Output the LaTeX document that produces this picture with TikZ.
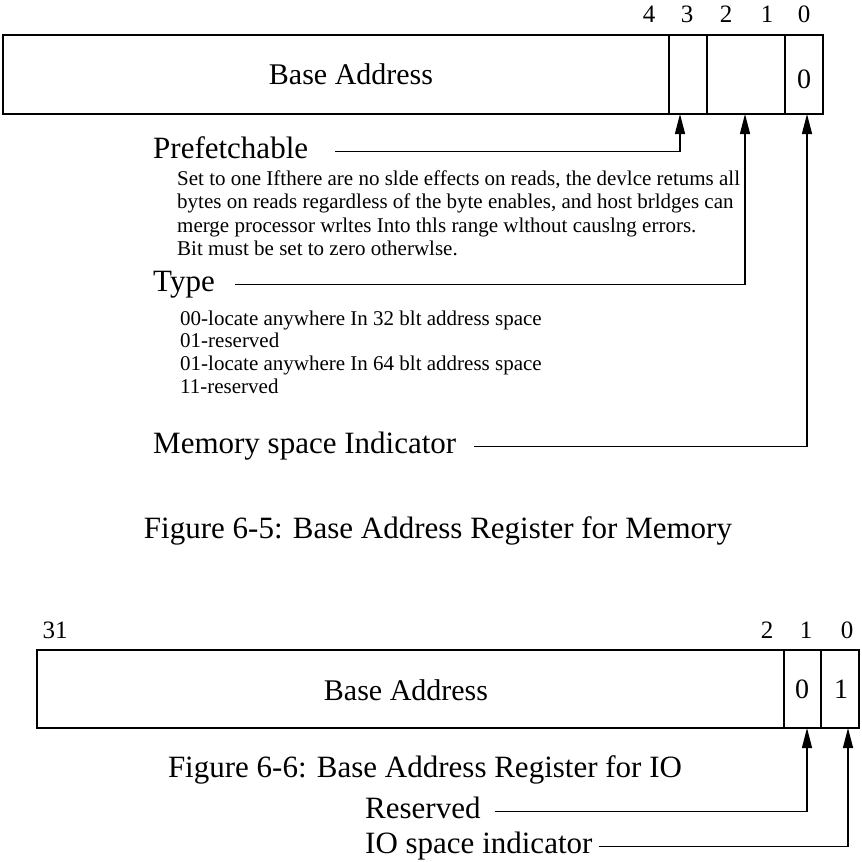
\documentclass[tikz,border=0pt]{standalone}
\usepackage{fontspec}
\setmainfont{Liberation Serif}
\usetikzlibrary{arrows.meta, positioning}

\begin{document}
\begin{tikzpicture}[
            x=1pt, y=-1pt,
            every node/.style={inner sep=0pt},
            big/.style={font=\fontsize{31}{36}\selectfont},
            field/.style={font=\fontsize{30}{36}\selectfont, anchor=base},
            bitno/.style={font=\fontsize{25}{30}\selectfont, anchor=base},
            cell/.style={font=\fontsize{28}{32}\selectfont, anchor=base},
            note/.style={font=\fontsize{21}{23.3}\selectfont, align=left, anchor=north west},
            frame/.style={line width=2.2pt},
            divider/.style={line width=1.3pt},
            arrow/.style={-{Triangle[length=20pt, width=10pt]}, line width=1.4pt}
        ]
        \useasboundingbox (0,0) rectangle (862,862);

        % Memory register (figure 6-5)
        \draw [frame] (3,35) rectangle (823,114);
        \foreach \x in {669,707,785}
            \draw [divider] (\x,35) -- (\x,114);
        \foreach \x/\b in {649/4, 687/3, 726/2, 767/1, 804/0}
            \node [bitno] (mbit\b) at (\x,22) {\b};
        \node [field] (membase) at (351,84) {Base Address};
        \node [cell] (mem0) at (804,88) {0};

        \coordinate (m3) at (680,114);
        \coordinate (m21) at (745,114);
        \coordinate (m0) at (807,114);

        \node [big, anchor=base west] (pref) at (153,158) {Prefetchable};
        \node [note] (prefdesc) at (177,170.5) {Set to one Ifthere are no slde effects on reads, the devlce retums all\\
            bytes on reads regardless of the byte enables, and host brldges can\\
            merge processor wrltes Into thls range wlthout causlng errors.\\
            Bit must be set to zero otherwlse.};
        \node [big, anchor=base west] (type) at (153,291) {Type};
        \node [note, font=\fontsize{21}{22.7}\selectfont] (typelist) at (180,310.5) {00-locate anywhere In 32 blt address space\\
            01-reserved\\
            01-locate anywhere In 64 blt address space\\
            11-reserved};
        \node [big, anchor=base west] (memsp) at (153,453) {Memory space Indicator};

        \draw [arrow] ([xshift=27pt, yshift=4pt]pref.mid east) -| (m3);
        \draw [arrow] ([xshift=20pt, yshift=4pt]type.mid east) -| (m21);
        \draw [arrow] ([xshift=18pt, yshift=4pt]memsp.mid east) -| (m0);

        \node [big, anchor=base] (cap1) at (438,538) {Figure 6-5: Base Address Register for Memory};

        % IO register (figure 6-6)
        \draw [frame] (37,650) rectangle (859,728);
        \foreach \x in {784,821}
            \draw [divider] (\x,650) -- (\x,728);
        \foreach \x/\b in {55/31, 767/2, 806/1, 847/0}
            \node [bitno] (iobit\b) at (\x,638) {\b};
        \node [field] (iobase) at (406,700) {Base Address};
        \node [cell] (io1) at (802,698) {0};
        \node [cell] (io0) at (841,698) {1};

        \coordinate (r1) at (807,728);
        \coordinate (r0) at (848,728);

        \node [big, anchor=base] (cap2) at (425,777) {Figure 6-6: Base Address Register for IO};
        \node [big, anchor=base west] (resv) at (365,818) {Reserved};
        \node [big, anchor=base west] (iosp) at (365,853) {IO space indicator};

        \draw [arrow] ([xshift=14pt, yshift=4pt]resv.mid east) -| (r1);
        \draw [arrow] ([xshift=6pt, yshift=4pt]iosp.mid east) -| (r0);
\end{tikzpicture}
\end{document}
